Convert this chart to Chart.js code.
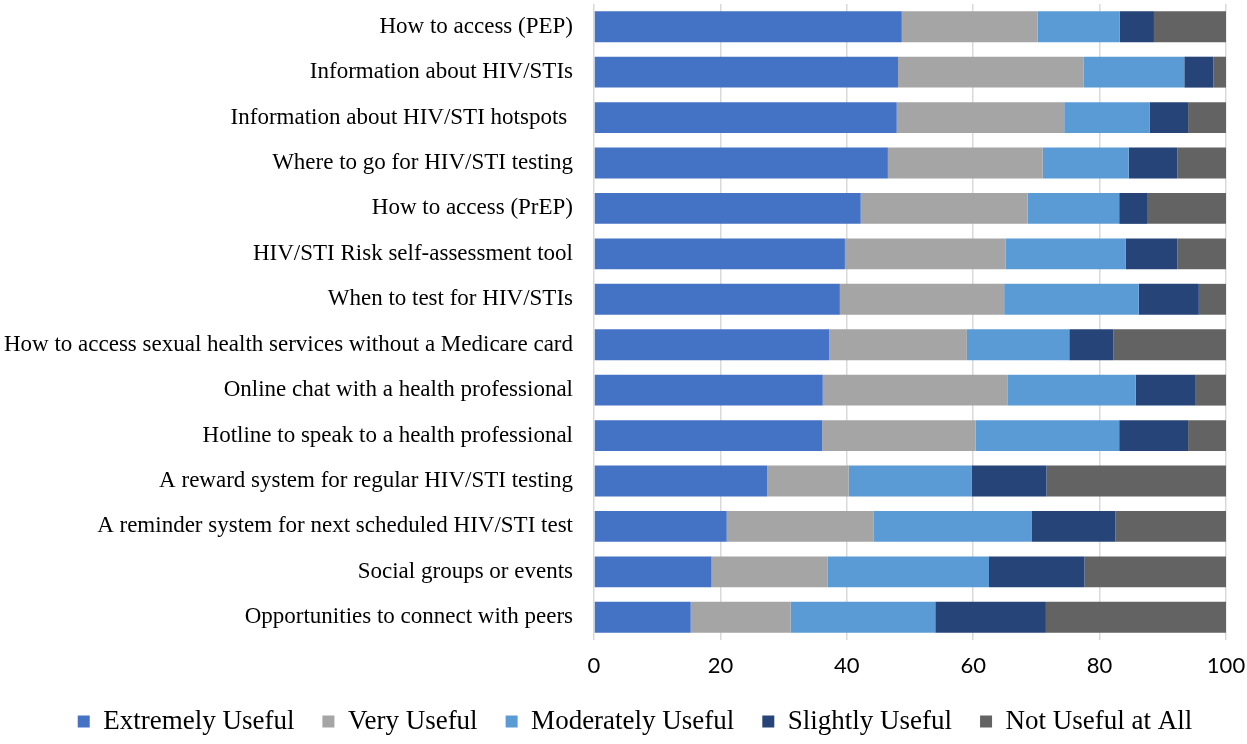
<!DOCTYPE html>
<html>
<head>
<meta charset="utf-8">
<script src="https://cdn.jsdelivr.net/npm/chart.js@4"></script>
<style>
  html, body { margin: 0; padding: 0; background: #fff; }
  #wrap { width: 1247px; height: 744px; }
</style>
</head>
<body>
<div id="wrap"><canvas id="usefulChart"></canvas></div>
<script>
const categories = [
    'How to access (PEP)',
    'Information about HIV/STIs',
    'Information about HIV/STI hotspots ',
    'Where to go for HIV/STI testing',
    'How to access (PrEP)',
    'HIV/STI Risk self-assessment tool',
    'When to test for HIV/STIs',
    'How to access sexual health services without a Medicare card',
    'Online chat with a health professional',
    'Hotline to speak to a health professional',
    'A reward system for regular HIV/STI testing',
    'A reminder system for next scheduled HIV/STI test',
    'Social groups or events',
    'Opportunities to connect with peers'
];

const extremelyUseful  = [48.7, 48.1, 47.9, 46.5, 42.2, 39.7, 38.9, 37.2, 36.2, 36.1, 27.4, 21.0, 18.6, 15.3];
const veryUseful       = [21.5, 29.4, 26.5, 24.5, 26.4, 25.4, 26.0, 21.8, 29.2, 24.3, 12.9, 23.2, 18.4, 15.8];
const moderatelyUseful = [13.0, 15.9, 13.5, 13.6, 14.5, 19.0, 21.3, 16.2, 20.3, 22.7, 19.5, 25.1, 25.5, 22.9];
const slightlyUseful   = [5.4, 4.6, 6.1, 7.7, 4.4, 8.2, 9.5, 7.0, 9.4, 10.9, 11.8, 13.2, 15.1, 17.5];
const notUseful        = [11.4, 2.0, 6.0, 7.7, 12.5, 7.7, 4.3, 17.8, 4.9, 6.0, 28.4, 17.5, 22.4, 28.5];

const xTicks = [0, 20, 40, 60, 80, 100];

// bar colours (Excel style)
const series = [
    { label: 'Extremely Useful', data: extremelyUseful, color: '#4472C4' },
    { label: 'Very Useful', data: veryUseful, color: '#A5A5A5' },
    { label: 'Moderately Useful', data: moderatelyUseful, color: '#5B9BD5' },
    { label: 'Slightly Useful', data: slightlyUseful, color: '#264478' },
    { label: 'Not Useful at All', data: notUseful, color: '#636363' }
];

const serif = '"Liberation Serif", "Times New Roman", serif';

// keep the legend row short so the plot gets the height,
// and nudge it a bit right like in the original
const legendTweak = {
    id: 'legendTweak',
    beforeInit(chart) {
        const legend = chart.legend;
        if (!legend) return;
        const fit = legend.fit;
        legend.fit = function () {
            fit.call(this);
            this.height = 64;
        };
    },
    afterLayout(chart) {
        const legend = chart.legend;
        if (!legend) return;
        legend.left += 22;
        legend.right += 22;
    }
};

const ctx = document.getElementById('usefulChart').getContext('2d');
const usefulChart = new Chart(ctx, {
    type: 'bar',
    data: {
        labels: categories,
        datasets: series.map(s => ({
            label: s.label,
            data: s.data,
            backgroundColor: s.color,
            borderWidth: 0,
            barPercentage: 0.68,
            categoryPercentage: 1
        }))
    },
    plugins: [legendTweak],
    options: {
        indexAxis: 'y',
        responsive: true,
        maintainAspectRatio: false,
        animation: false,
        layout: {
            padding: { top: 4, right: 21, left: 0, bottom: 0 }
        },
        plugins: {
            legend: {
                display: true,
                position: 'bottom',
                labels: {
                    boxWidth: 12,
                    boxHeight: 12,
                    padding: 28,
                    color: '#000',
                    font: { family: serif, size: 27 }
                }
            },
            tooltip: { enabled: false }
        },
        scales: {
            x: {
                stacked: true,
                min: 0,
                max: 100,
                afterBuildTicks: (scale) => {
                    scale.ticks = xTicks.map(v => ({ value: v }));
                },
                afterFit: (scale) => {
                    scale.paddingLeft = 0;
                    scale.paddingRight = 0;
                    scale.height = 40;
                },
                grid: {
                    color: '#D9D9D9',
                    lineWidth: 1.5,
                    drawTicks: false
                },
                border: { display: false },
                ticks: {
                    padding: 13,
                    color: '#000',
                    font: { family: 'Lato, "Liberation Sans", sans-serif', size: 22 }
                }
            },
            y: {
                stacked: true,
                afterFit: (scale) => {
                    scale.width = 594;
                    scale.paddingTop = 0;
                    scale.paddingBottom = 0;
                },
                grid: { display: false, drawTicks: false },
                border: { display: false },
                ticks: {
                    padding: 21,
                    color: '#000',
                    font: { family: serif, size: 23 }
                }
            }
        }
    }
});
</script>
</body>
</html>
